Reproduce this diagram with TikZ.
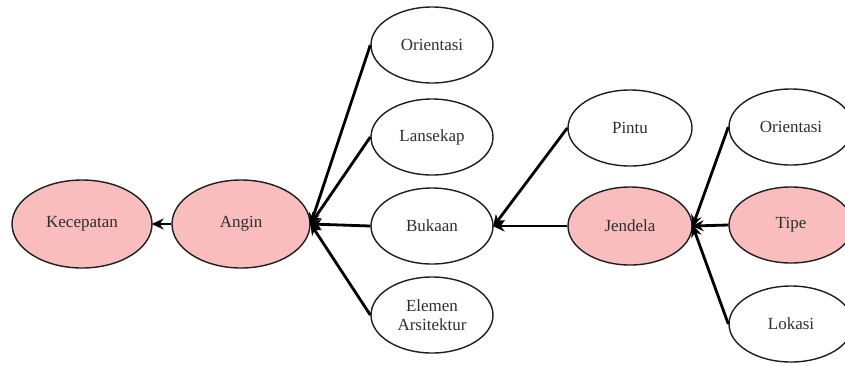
\documentclass[tikz,border=0pt]{standalone}
\usepackage{fontspec}
\setmainfont{Liberation Serif}
\usetikzlibrary{shapes.geometric,arrows.meta}
\definecolor{pinkfill}{HTML}{F9BDBD}
\definecolor{edgegray}{HTML}{1E1E1E}
\definecolor{txtgray}{HTML}{2E2E2E}
\tikzset{
  ell/.style={ellipse, draw=edgegray, line width=1.4pt, fill=white, inner sep=0pt,
    minimum width=124pt, minimum height=76pt, font=\fontsize{17}{20}\selectfont, text=txtgray, align=center},
  hot/.style={ell, fill=pinkfill},
  conn/.style={line width=2.8pt, black, -{Stealth[length=12pt,width=11pt,inset=4pt]}, shorten >=-1pt}
}
\begin{document}
\begin{tikzpicture}[x=1pt,y=-1pt]
\useasboundingbox (0,0) rectangle (845,365);
\clip (0,0) rectangle (845,365);
\node[hot, minimum width=140pt, minimum height=88pt] (kec) at (82,224) {Kecepatan};
\node[hot, minimum width=138pt, minimum height=88pt] (ang) at (241,224) {Angin};
\node[ell, minimum width=122pt] (ori1) at (432,45) {Orientasi};
\node[ell, minimum width=122pt] (lan) at (432,137) {Lansekap};
\node[ell, minimum width=122pt] (buk) at (432,226) {Bukaan};
\node[ell, minimum width=122pt] (ele) at (432,315) {Elemen\\[-1pt]Arsitektur};
\node[ell] (pin) at (630,128) {Pintu};
\node[hot, minimum height=78pt] (jen) at (630,226) {Jendela};
\node[ell] (ori2) at (791,127) {Orientasi};
\node[hot] (tip) at (791,225) {Tipe};
\node[ell] (lok) at (791,324) {Lokasi};
\draw[conn] (ang.west) -- (kec.east);
\draw[conn] (ori1.west) -- (ang.east);
\draw[conn] (lan.west) -- (ang.east);
\draw[conn] (buk.west) -- (ang.east);
\draw[conn] (ele.west) -- (ang.east);
\draw[conn] (pin.west) -- (buk.east);
\draw[conn] (jen.west) -- (buk.east);
\draw[conn] (ori2.west) -- (jen.east);
\draw[conn] (tip.west) -- (jen.east);
\draw[conn] (lok.west) -- (jen.east);
\end{tikzpicture}
\end{document}
